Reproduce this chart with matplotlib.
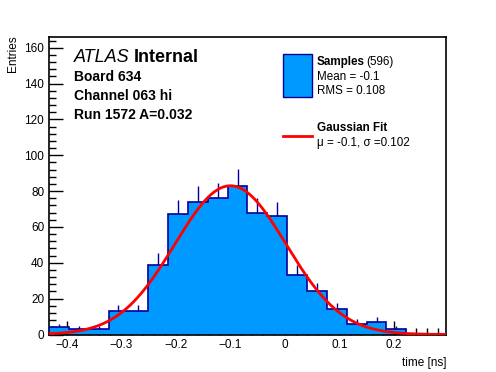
import numpy as np
import matplotlib
matplotlib.use("Agg")
import matplotlib.pyplot as plt
from matplotlib.ticker import MultipleLocator

plt.rcParams['font.family'] = ['Liberation Sans', 'DejaVu Sans']

# ===========================
# Datos del histograma
# ===========================
x_min, x_max = -0.4325, 0.295
n_bins = 20
counts = [4, 3, 3, 13, 13, 39, 67, 74, 76, 83, 68, 66, 33, 24, 14, 6, 7, 3, 0, 0]
n_entries = 596
mean_txt = "-0.1"
rms_txt = "0.108"

# parametros del ajuste gaussiano
fit_mu = -0.1
fit_sigma = 0.102
fit_amp = 83.0

edges = np.linspace(x_min, x_max, n_bins + 1)
centers = 0.5 * (edges[:-1] + edges[1:])
counts = np.array(counts, dtype=float)

fig = plt.figure(figsize=(4.96, 3.72), dpi=100)
ax = fig.add_axes([49 / 496, 1 - 334.5 / 372, (446 - 49) / 496, (334.5 - 37) / 372])

# histograma relleno
ax.stairs(counts, edges, fill=True, color="#0099ff", zorder=2)
ax.stairs(counts, edges, color="#000099", linewidth=1.2, zorder=3)
# barras de error (solo parte superior visible)
err = np.sqrt(counts)
mask = counts > 0
ax.vlines(centers[mask], counts[mask] - err[mask], counts[mask] + err[mask],
          color="#000099", linewidth=1.0, zorder=1)

# curva del ajuste
xf = np.linspace(x_min, x_max, 400)
yf = fit_amp * np.exp(-0.5 * ((xf - fit_mu) / fit_sigma) ** 2)
ax.plot(xf, yf, color="red", linewidth=2, zorder=4)

ax.set_xlim(x_min, x_max)
ax.set_ylim(0, 166)
ax.xaxis.set_major_locator(MultipleLocator(0.1))
ax.xaxis.set_minor_locator(MultipleLocator(0.02))
ax.yaxis.set_major_locator(MultipleLocator(20))
ax.yaxis.set_minor_locator(MultipleLocator(4))
ax.tick_params(which="both", direction="in", top=False, right=False, labelsize=8.5, width=1)
ax.tick_params(which="major", length=10)
ax.tick_params(which="minor", length=5)
ax.set_xticks([-0.4, -0.3, -0.2, -0.1, 0, 0.1, 0.2])
ax.set_xticklabels(["\u22120.4", "\u22120.3", "\u22120.2", "\u22120.1", "0", "0.1", "0.2"])
for s in ax.spines.values():
    s.set_linewidth(1.2)

ax.set_xlabel("time [ns]", fontsize=8.5, loc="right", labelpad=4)

# ===========================
# Textos
# ===========================
def px(x, y):
    return x / 496, 1 - y / 372

fig.text(*px(13, 35), "Entries", fontsize=8.5, rotation=90, ha="center", va="top")

fig.text(*px(74, 58), "ATLAS", fontsize=13, style="italic", va="center")
fig.text(*px(134, 58), "Internal", fontsize=13, weight="bold", va="center")
fig.text(*px(74, 77), "Board 634", fontsize=10, weight="bold", va="center")
fig.text(*px(74, 96), "Channel 063 hi", fontsize=10, weight="bold", va="center")
fig.text(*px(74, 115), "Run 1572 A=0.032", fontsize=10, weight="bold", va="center")

# leyenda manual
fig.patches.append(plt.Rectangle(px(283, 96.5), 29 / 496, 43 / 372, transform=fig.transFigure,
                                 facecolor="#0099ff", edgecolor="#000099", linewidth=1))
fig.text(*px(317, 62), "Samples", fontsize=8.4, weight="bold", va="center")
fig.text(*px(366, 62), "(%d)" % n_entries, fontsize=8.4, va="center")
fig.text(*px(317, 77), "Mean = " + mean_txt, fontsize=8.4, va="center")
fig.text(*px(317, 91), "RMS = " + rms_txt, fontsize=8.4, va="center")

fig.lines.append(plt.Line2D([283 / 496, 312 / 496], [1 - 135.5 / 372] * 2, transform=fig.transFigure,
                            color="red", linewidth=2))
fig.text(*px(317, 128), "Gaussian Fit", fontsize=8.4, weight="bold", va="center")
fig.text(*px(317, 143), "\u03bc = -0.1, \u03c3 =0.102", fontsize=8.4, va="center")

fig.savefig("out.png", dpi=100)
